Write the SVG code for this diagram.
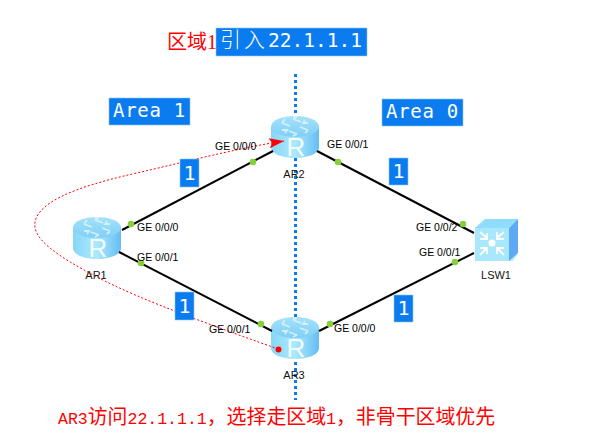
<svg xmlns="http://www.w3.org/2000/svg" width="604" height="438" viewBox="0 0 604 438">
<defs>
<linearGradient id="side" x1="0" y1="0" x2="1" y2="0"><stop offset="0" stop-color="#86d6f9"/><stop offset=".5" stop-color="#ade9fc"/><stop offset="1" stop-color="#64bdf3"/></linearGradient>
<linearGradient id="top" x1="0" y1="0" x2="0" y2="1"><stop offset="0" stop-color="#a4e2fa"/><stop offset="1" stop-color="#80cef6"/></linearGradient>
<marker id="ah" markerUnits="userSpaceOnUse" markerWidth="17" markerHeight="12" refX="15" refY="6" orient="auto"><path d="M0 1L15 6L0 11L3 6Z" fill="#ff0000"/></marker>
<g id="router">
<path d="M-24 -10V10C-24 17 -12 21 0 21S24 17 24 10V-10Z" fill="url(#side)"/>
<ellipse cx="0" cy="-10.500" rx="24" ry="10.500" fill="url(#top)"/>
<g fill="none" stroke="#d8f3fd" stroke-width="1.800" opacity=".9"><path d="M-13 -14L-5 -11M-13 -14L-10 -18M-2 -18L6 -15M-2 -18L2 -20H-2M13 -7L5 -10M13 -7L10 -4M2 -3L-6 -6M2 -3L-2 -1M-13 -7H-8L-10 -4M13 -14H8L10 -17"/></g>
<text x="1" y="19" class="R">R</text>
</g>
</defs>
<style>
text{font-family:"Liberation Sans",Arial,sans-serif}
.lb{font-size:10.500px;fill:#000}
.R{font-size:26px;fill:#f2fdff;text-anchor:middle}
.name{font-size:11px;fill:#111;text-anchor:middle}
.box{fill:#0a7cf0;stroke:#8cc4f7;stroke-width:.6}
.mono{font-family:"DejaVu Sans Mono","Liberation Mono",monospace;fill:#fff}
.cn{font-family:"Liberation Serif","Noto Sans CJK SC",serif;fill:#ff0000}
.lat{font-family:"Liberation Mono",monospace}
.link{stroke:#000;stroke-width:2;fill:none}
.dot{fill:#86d13b}
.r{fill:none;stroke:#ff0000;stroke-width:1;stroke-dasharray:2 2}
</style>
<rect width="604" height="438" fill="#fff"/>
<g id="divider"><line x1="295.500" y1="74" x2="295.500" y2="400" stroke="#0a7cf0" stroke-width="3" stroke-dasharray="3 3"/></g>
<g id="AR2" transform="translate(295 137)"><use href="#router"/><text x="-1" y="41" class="name">AR2</text></g>
<g id="AR1" transform="translate(97 238)"><use href="#router"/><text x="-1" y="41" class="name">AR1</text></g>
<g id="AR3" transform="translate(295 338)"><use href="#router"/><text x="-1" y="41" class="name">AR3</text></g>
<g id="LSW1" transform="translate(496 240)">
<path d="M-21 -12L-10 -21H22L21 15L17 21H-21Z" fill="#b9ecfd"/>
<path d="M13 -12L22 -21V13L13 21Z" fill="#5da9f5"/>
<path d="M-21 -12L-11 -21H22L13 -12Z" fill="#8fdcfb"/>
<rect x="-21" y="-12" width="34" height="33" fill="#a9e7fc"/>
<circle cx="-4" cy="3" r="3.500" fill="#fff"/>
<path d="M-16 -8L-9 -2M-16 -1H-9V-7M8 -8L1 -2M1 -8V-1H8M-16 15L-9 8M-16 8H-9V14M8 15L1 8M1 14V8H8" fill="none" stroke="#fff" stroke-width="1.800"/>
<text x="0" y="39" class="name">LSW1</text>
</g>
<g id="connectors">
<path class="link" d="M122 230L273 151"/>
<path class="link" d="M119 252L272 331"/>
<path class="link" d="M317 151L474 233"/>
<path class="link" d="M319 331L474 253"/>
<circle class="dot" cx="131" cy="224" r="3.300"/>
<circle class="dot" cx="141" cy="263" r="3.300"/>
<circle class="dot" cx="253" cy="162" r="3.300"/>
<circle class="dot" cx="338" cy="162" r="3.300"/>
<circle class="dot" cx="463" cy="224" r="3.300"/>
<circle class="dot" cx="455" cy="262" r="3.300"/>
<circle class="dot" cx="261" cy="324" r="3.300"/>
<circle class="dot" cx="330" cy="324" r="3.300"/>
<path class="r" marker-end="url(#ah)" d="M278 349C225 330 140 300 97 277C55 255 32 238 35 222C40 195 105 180 150 170C200 158 250 146 284 141"/>
<circle cx="278.500" cy="349.500" r="3" fill="#ff0000"/>
</g>
<g id="labels">
<text class="lb" x="215" y="150">GE 0/0/0</text>
<text class="lb" x="327" y="148">GE 0/0/1</text>
<text class="lb" x="137" y="231">GE 0/0/0</text>
<text class="lb" x="137" y="261">GE 0/0/1</text>
<text class="lb" x="416" y="231">GE 0/0/2</text>
<text class="lb" x="419" y="256">GE 0/0/1</text>
<text class="lb" x="209" y="333">GE 0/0/1</text>
<text class="lb" x="334" y="332">GE 0/0/0</text>
</g>
<g id="area1"><rect class="box" x="109" y="98" width="81" height="27"/><text class="mono" x="113" y="117" font-size="19" letter-spacing=".7" xml:space="preserve">Area 1</text></g>
<g id="area0"><rect class="box" x="382" y="99" width="81" height="27"/><text class="mono" x="386" y="118" font-size="19" letter-spacing=".7" xml:space="preserve">Area 0</text></g>
<g id="cost1"><rect class="box" x="180" y="159" width="19" height="28"/><text class="mono" x="183.500" y="180" font-size="20">1</text></g>
<g id="cost2"><rect class="box" x="389" y="158" width="19" height="27"/><text class="mono" x="392.500" y="178" font-size="20">1</text></g>
<g id="cost3"><rect class="box" x="175" y="292" width="19" height="28"/><text class="mono" x="178.500" y="313" font-size="20">1</text></g>
<g id="cost4"><rect class="box" x="394" y="295" width="19" height="27"/><text class="mono" x="397.500" y="315" font-size="20">1</text></g>
<g id="title">
<rect class="box" x="216" y="28" width="151" height="28"/>
<text class="cn" x="167" y="49" font-size="20">区域1</text>
<text class="mono" y="47" font-size="21"><tspan x="220" style="font-family:'Noto Sans CJK SC',sans-serif;font-weight:300">引</tspan><tspan x="244" style="font-family:'Noto Sans CJK SC',sans-serif;font-weight:300">入</tspan><tspan x="268" font-size="19.500">22.1.1.1</tspan></text>
</g>
<g id="caption"><text class="cn" x="58" y="424" font-size="19.900"><tspan class="lat" font-size="16.500">AR3</tspan>访问<tspan class="lat" font-size="16.500">22.1.1.1</tspan>，选择走区域<tspan class="lat" font-size="16.500">1</tspan>，非骨干区域优先</text></g>
</svg>
